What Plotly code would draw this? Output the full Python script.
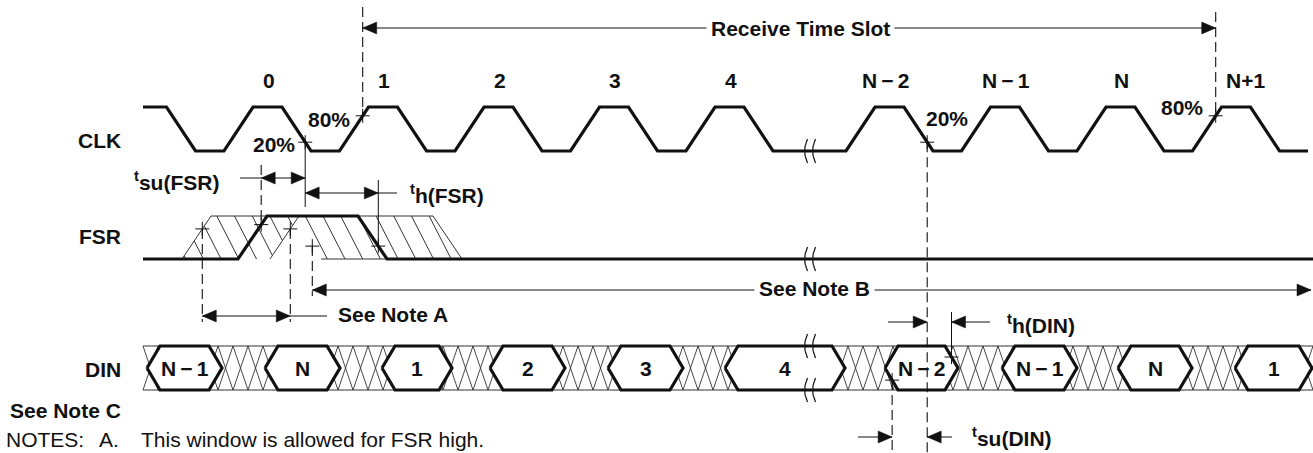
import numpy as np
import plotly.graph_objects as go

# ---------------- data (time axis in drawing units) ----------------
CLK_LABELS = ["0", "1", "2", "3", "4", "N\u2009\u2212\u20092", "N\u2009\u2212\u20091", "N", "N+1"]
CLK_SLOTS = [0, 1, 2, 3, 4, 5, 6, 7, 8]
CLK_LABEL_SHIFT = [1, 1, 1, 1, 1, -4, 1, 1, 9]
BREAK_AFTER_SLOT = 4
SLOT0_CENTER = 267.5
PERIOD = 115.5
BREAK_GAP = 44.5
CLK_EDGE = 29.0
CLK_HIGH_HALF = 14.5
CLK_LEVELS = [107, 151]          # high, low
T_START, T_END = 143, 1308

FSR_LEVELS = [216, 259]          # high, low
FSR_EDGES = [238, 358]           # actual rise start, fall start
FSR_EDGE = 29.0
FSR_RISE_WIN = [211, 299]        # top x of earliest / latest rising edge
FSR_FALL_WIN = [292, 433]        # top x of earliest / latest falling edge

DIN_LABELS = ["N\u2009\u2212\u20091", "N", "1", "2", "3", "4",
              "N\u2009\u2212\u20092", "N\u2009\u2212\u20091", "N", "1"]
DIN_START = [147, 265, 382, 490, 608, 725, 885, 1002, 1118, 1235]
DIN_END = [222, 340, 452, 565, 683, 845, 958, 1077, 1192, 1312]
DIN_LEVELS = [346, 390]
HEX_INSET = 13

BLACK = "#111111"
HATCH = "#333333"
traces = []


def add_lines(segs, width=1.0, dash=None, color=BLACK):
    xs, ys = [], []
    for seg in segs:
        for (x, y) in seg:
            xs.append(x)
            ys.append(y)
        xs.append(None)
        ys.append(None)
    traces.append(go.Scatter(x=xs, y=ys, mode="lines",
                             line=dict(color=color, width=width, dash=dash),
                             hoverinfo="skip", showlegend=False))


def add_polys(polys, fill, width=0.0, color=BLACK):
    xs, ys = [], []
    for poly in polys:
        for (x, y) in poly + [poly[0]]:
            xs.append(x)
            ys.append(y)
        xs.append(None)
        ys.append(None)
    traces.append(go.Scatter(x=xs, y=ys, mode="lines", fill="toself", fillcolor=fill,
                             line=dict(color=color, width=width),
                             hoverinfo="skip", showlegend=False))


# ---------------- CLK ----------------
hi, lo = CLK_LEVELS
centers = [SLOT0_CENTER + PERIOD * s + (BREAK_GAP if s > BREAK_AFTER_SLOT else 0) for s in CLK_SLOTS]
clk = [(T_START, hi)]
prev = SLOT0_CENTER - PERIOD
clk += [(prev + CLK_HIGH_HALF, hi), (prev + CLK_HIGH_HALF + CLK_EDGE, lo)]
for c in centers:
    clk += [(c - CLK_HIGH_HALF - CLK_EDGE, lo), (c - CLK_HIGH_HALF, hi),
            (c + CLK_HIGH_HALF, hi), (c + CLK_HIGH_HALF + CLK_EDGE, lo)]
clk.append((T_END, lo))


def on_rise(c, frac):
    x0 = c - CLK_HIGH_HALF - CLK_EDGE
    return (x0 + frac * CLK_EDGE, lo - frac * (lo - hi))


def on_fall(c, frac):
    x0 = c + CLK_HIGH_HALF
    return (x0 + (1 - frac) * CLK_EDGE, lo - frac * (lo - hi))


p80_a = on_rise(centers[1], 0.8)
p20_a = on_fall(centers[0], 0.2)
p20_b = on_fall(centers[5], 0.2)
p80_b = on_rise(centers[8], 0.8)
break_x = (centers[BREAK_AFTER_SLOT] + CLK_HIGH_HALF + CLK_EDGE +
           centers[BREAK_AFTER_SLOT + 1] - CLK_HIGH_HALF - CLK_EDGE) / 2

# ---------------- FSR ----------------
fh, fl = FSR_LEVELS
fsr = [(T_START, fl), (FSR_EDGES[0], fl), (FSR_EDGES[0] + FSR_EDGE, fh),
       (FSR_EDGES[1], fh), (FSR_EDGES[1] + FSR_EDGE, fl), (1313, fl)]
H = fl - fh
r1 = [(FSR_RISE_WIN[0] - FSR_EDGE, fl), (FSR_RISE_WIN[0], fh), (FSR_RISE_WIN[1], fh), (FSR_RISE_WIN[1] - FSR_EDGE, fl)]
r2 = [(FSR_FALL_WIN[0], fh), (FSR_FALL_WIN[1], fh), (FSR_FALL_WIN[1] + FSR_EDGE, fl), (FSR_FALL_WIN[0] + FSR_EDGE, fl)]


def region_hatch(top_l, top_r, slope_edge, phases, slope_h=22.0):
    segs = []
    u = np.linspace(0, H, 200)
    for p in phases:
        xl = top_l + slope_edge * u / H
        xr = top_r + slope_edge * u / H
        xh = p + slope_h * u / H
        ok = (xh >= xl) & (xh <= xr)
        if ok.sum() < 2:
            continue
        uu = u[ok]
        segs.append([(p + slope_h * uu[0] / H, fh + uu[0]), (p + slope_h * uu[-1] / H, fh + uu[-1])])
    return segs


phases = np.arange(323 - 17.7 * 10, 470, 17.7)
hatch_fsr = region_hatch(FSR_RISE_WIN[0], FSR_RISE_WIN[1], -FSR_EDGE, phases)
hatch_fsr += region_hatch(FSR_FALL_WIN[0], FSR_FALL_WIN[1], FSR_EDGE, phases)


def along(p0, p1, f):
    return (p0[0] + f * (p1[0] - p0[0]), p0[1] + f * (p1[1] - p0[1]))


f_a = along(r1[0], r1[1], 0.7)                   # earliest rise
f_b = along(r1[3], r1[2], 0.7)                   # latest rise
f_c = along(fsr[1], fsr[2], 0.8)                 # actual rise
f_d = along(r2[0], r2[3], 0.7)                   # earliest fall
f_e = along(fsr[3], fsr[4], 0.7)                 # actual fall

# ---------------- DIN ----------------
dt, db = DIN_LEVELS
dm = (dt + db) / 2
din_hatch = []
step = 15
for a in np.arange(T_START, 1313 - step + 0.1, step):
    din_hatch.append([(a, dt), (a + step, db)])
    din_hatch.append([(a + step, dt), (a, db)])
hexes = []
for s, e in zip(DIN_START, DIN_END):
    hexes.append([(s, dm), (s + HEX_INSET, dt), (e - HEX_INSET, dt), (e, dm), (e - HEX_INSET, db), (s + HEX_INSET, db)])
i_n2 = 6
d_a = along(hexes[i_n2][0], hexes[i_n2][5], 0.55)   # lower-left slant of N-2
d_b = along(hexes[i_n2][2], hexes[i_n2][3], 0.5)    # upper-right slant of N-2

# ---------------- draw ----------------
add_lines([[(T_START, dt), (1313, dt)], [(T_START, db), (1313, db)]], width=1.0, color=HATCH)
add_lines(din_hatch, width=0.9, color=HATCH)
add_polys(hexes, "white", width=3.2)

add_lines([r1, r2], width=1.0, color=HATCH)
add_lines(hatch_fsr, width=1.0, color=HATCH)
add_lines([clk, fsr], width=3.2)


def break_mark(xc, yc):
    t = np.linspace(0, 1, 15)
    segs = []
    for dx in (-4, 4):
        x0 = xc + dx
        xs = x0 + 2 - 11.2 * t * (1 - t)
        ys = yc - 12 + 24 * t
        segs.append(list(zip(xs, ys)))
    return segs


brk = []
for yy in (lo, fl, dt, db):
    brk += break_mark(break_x, yy)
add_lines(brk, width=1.2)

# dashed vertical lines
add_lines([[(p80_a[0], 7), p80_a], [(p80_b[0], 12), p80_b],
           [p20_b, (p20_b[0], 453)],
           [(f_c[0], 165), f_c],
           [f_a, (f_a[0], 322)], [f_b, (f_b[0], 322)],
           [f_d, (f_d[0], 296)],
           [d_a, (d_a[0], 453)]], width=1.1, dash="10px,5px")
# solid thin verticals
add_lines([[p20_a, (p20_a[0], 207)], [(f_e[0], 180), f_e], [(d_b[0], 312), d_b]], width=1.0)

# crosshair marks
pluses = [p80_a, p20_a, p20_b, p80_b, f_a, f_b, f_c, f_d, f_e, d_a, d_b]
add_lines([[(x - 7, y), (x + 7, y)] for x, y in pluses] + [[(x, y - 7), (x, y + 7)] for x, y in pluses], width=1.0)

# arrows
AL, AW = 14, 6
heads = []


def head(tip_x, y, direction):
    heads.append([(tip_x, y), (tip_x - direction * AL, y - AW), (tip_x - direction * AL, y + AW)])


y_rts = 28
add_lines([[(p80_a[0], y_rts), (p80_b[0], y_rts)]], width=1.0)
head(p80_a[0], y_rts, -1); head(p80_b[0], y_rts, 1)

y_su = 178
add_lines([[(240, y_su), (p20_a[0], y_su)]], width=1.0)
head(f_c[0], y_su, -1); head(p20_a[0], y_su, 1)

y_h = 193
add_lines([[(p20_a[0], y_h), (397, y_h)]], width=1.0)
head(p20_a[0], y_h, -1); head(f_e[0], y_h, 1)

y_na = 316
add_lines([[(f_a[0], y_na), (327, y_na)]], width=1.0)
head(f_a[0], y_na, -1); head(f_b[0], y_na, 1)

y_nb = 290
add_lines([[(f_d[0], y_nb), (1311, y_nb)]], width=1.0)
head(f_d[0], y_nb, -1); head(1311, y_nb, 1)

y_hd = 322
add_lines([[(888, y_hd), (p20_b[0], y_hd)], [(d_b[0], y_hd), (990, y_hd)]], width=1.0)
head(p20_b[0], y_hd, 1); head(d_b[0], y_hd, -1)

y_sd = 437
add_lines([[(858, y_sd), (d_a[0], y_sd)], [(p20_b[0], y_sd), (952, y_sd)]], width=1.0)
head(d_a[0], y_sd, 1); head(p20_b[0], y_sd, -1)

add_polys(heads, BLACK, width=0.5)

# ---------------- text ----------------
FONT = "Liberation Sans, Arial, sans-serif"
FS = 21
ann = []


def txt(x, y, s, anchor="center", size=FS, bold=True, bg=None, yanchor="middle"):
    d = dict(x=x, y=y, text=s, showarrow=False, xanchor=anchor, yanchor=yanchor,
             font=dict(family=FONT, size=size, color=BLACK, weight="bold" if bold else "normal"))
    if bg:
        d.update(bgcolor=bg, borderpad=4)
    ann.append(d)


txt(800, y_rts, "Receive Time Slot", bg="white")
for lab, c, sh in zip(CLK_LABELS, centers, CLK_LABEL_SHIFT):
    txt(c + sh, 80, lab)
txt(123, 140, "CLK", "right")
txt(329, 119, "80%")
txt(274, 144, "20%")
txt(947, 118, "20%")
txt(1182, 107, "80%")
txt(123, 236, "FSR", "right")
txt(123, 369, "DIN", "right")
txt(123, 410, "See Note C", "right")
txt(221, 181, "<sup>t</sup>su(FSR)", "right")
txt(408, 194, "<sup>t</sup>h(FSR)", "left")
txt(336, 314, "See Note A", "left")
txt(814, 288, "See Note B", bg="white")
txt(1005, 324, "<sup>t</sup>h(DIN)", "left")
txt(970, 437, "<sup>t</sup>su(DIN)", "left")
for lab, s, e in zip(DIN_LABELS, DIN_START, DIN_END):
    txt((s + e) / 2, dm, lab)
txt(4, 453, "NOTES:", "left", bold=False, yanchor="bottom")
txt(97, 453, "A.", "left", bold=False, yanchor="bottom")
txt(139, 453, "This window is allowed for FSR high.", "left", bold=False, yanchor="bottom")

fig = go.Figure(traces)
fig.update_layout(
    width=1313, height=453, margin=dict(l=0, r=0, t=0, b=0), autosize=False,
    paper_bgcolor="white", plot_bgcolor="white", annotations=ann, showlegend=False,
    xaxis=dict(range=[0, 1313], visible=False, fixedrange=True),
    yaxis=dict(range=[453, 0], visible=False, fixedrange=True),
)
fig.write_html("out.html", config={"displayModeBar": False, "staticPlot": True},
               post_script="document.body.style.margin='0';document.body.style.overflow='hidden';")
